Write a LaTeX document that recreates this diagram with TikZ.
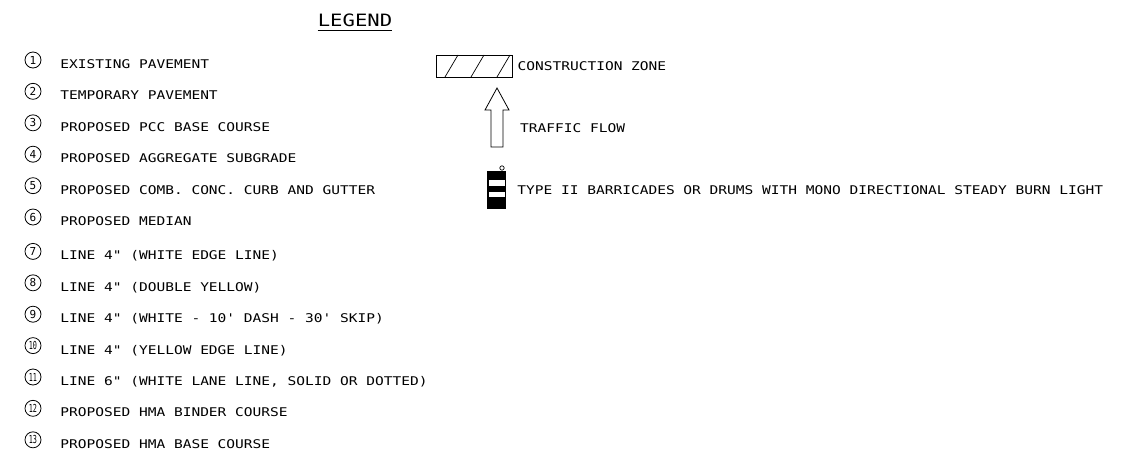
\documentclass[tikz,border=0pt]{standalone}
\usepackage{fontspec}
\usepackage{graphicx}
\newfontfamily\cadfont[FakeStretch=1.21]{DejaVu Sans Mono}
\newfontfamily\numfont{DejaVu Sans Mono}
\usetikzlibrary{matrix,positioning}

\newcommand{\twodig}[1]{\scalebox{0.62}[1]{#1}}

\tikzset{
  legtext/.style={font=\cadfont\fontsize{12}{12}\selectfont, inner sep=0pt, text height=9pt, text depth=0pt, anchor=west},
  numcirc/.style={circle, draw, line width=0.8pt, minimum size=16pt, inner sep=0pt, font=\numfont\fontsize{11}{11}\selectfont},
  sym/.style={draw, line width=0.8pt}
}

\begin{document}
\begin{tikzpicture}[x=1pt,y=-1pt]
  \fill[white] (0,0) rectangle (1143,463);
  \useasboundingbox (0,0) rectangle (1143,463);
  % title
  \node[font=\cadfont\fontsize{17}{17}\selectfont, inner sep=0pt, text height=12pt, text depth=0pt] (title) at (355,20) {LEGEND};
  \draw[line width=1pt] ([yshift=-4pt]title.south west) -- ([yshift=-4pt]title.south east);
  % numbered items
  \matrix(m) [matrix of nodes, inner sep=0pt, row sep={31.4pt,between origins}, column sep=19pt, matrix anchor=m-1-1.center,
              column 1/.style={nodes={numcirc}}, column 2/.style={nodes={legtext}}] at (33,60) {
    1  & EXISTING PAVEMENT \\
    2  & TEMPORARY PAVEMENT \\
    3  & PROPOSED PCC BASE COURSE \\
    4  & PROPOSED AGGREGATE SUBGRADE \\
    5  & PROPOSED COMB. CONC. CURB AND GUTTER \\
    6  & PROPOSED MEDIAN \\[3pt]
    7  & LINE 4" (WHITE EDGE LINE) \\
    8  & LINE 4" (DOUBLE YELLOW) \\
    9  & LINE 4" (WHITE - 10' DASH - 30' SKIP) \\
    \twodig{10} & LINE 4" (YELLOW EDGE LINE) \\
    \twodig{11} & LINE 6" (WHITE LANE LINE, SOLID OR DOTTED) \\
    \twodig{12} & PROPOSED HMA BINDER COURSE \\
    \twodig{13} & PROPOSED HMA BASE COURSE \\
  };
  % construction zone
  \node[sym, minimum width=76pt, minimum height=22pt, inner sep=0pt] (czone) at (474,66) {};
  \begin{scope}
    \clip (czone.south west) rectangle (czone.north east);
    \foreach \hx in {445,471,497}
      \draw[line width=0.7pt] (\hx,77) -- ++(13,-22);
  \end{scope}
  \node[legtext, right=5pt of czone] (czonetext) {CONSTRUCTION ZONE};
  % traffic flow
  \coordinate (tip) at (497,88);
  \draw[sym] (tip) -- ++(12,22) -- ++(-6,0) -- ++(0,37) -- ++(-12,0) -- ++(0,-37) -- ++(-6,0) -- cycle;
  \node[legtext] (flowtext) at (520,128) {TRAFFIC FLOW};
  % barricade
  \node[fill=black, minimum width=19pt, minimum height=38pt, inner sep=0pt] (drum) at (496.5,190) {};
  \fill[white] (488.5,180) rectangle (504.5,186);
  \fill[white] (488.5,192) rectangle (504.5,197);
  \draw[line width=0.7pt, fill=white] (502,168) circle (2.2pt);
  \node[legtext, right=11pt of drum] (drumtext) {TYPE II BARRICADES OR DRUMS WITH MONO DIRECTIONAL STEADY BURN LIGHT};
\end{tikzpicture}
\end{document}
